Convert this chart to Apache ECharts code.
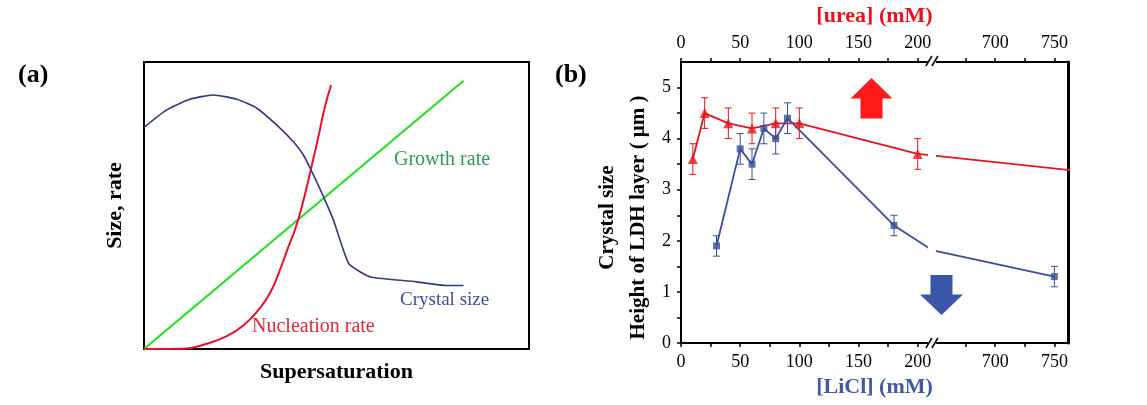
<!DOCTYPE html>
<html><head><meta charset="utf-8">
<script src="https://cdn.jsdelivr.net/npm/echarts@6/dist/echarts.min.js"></script>
<style>html,body{margin:0;padding:0;background:#fff}#c{width:1147px;height:405px}</style>
</head><body><div id="c"></div>
<script>
// ---------- Panel (a): schematic curves (x: supersaturation 0-100, y: size/rate 0-100)
const growthRate = [[0,0],[83,93.5]];
const nucleationRate = [[0,0],[10,0.1],[16.3,1.8],[21.5,4.5],[25.8,8.2],[29.7,13.6],[32.7,19.4],[35.3,27.5],[37.5,35.6],[39.2,41.5],[41,49.6],[43.1,61.2],[45.3,74],[47,84.4],[48.6,92]];
const crystalSizeCurve = [[0,77.2],[5.9,83.3],[11.9,87],[18,88.5],[24.1,87],[29.3,83.9],[34.5,78],[38.8,72.2],[41.4,67.6],[43.6,61.8],[46.2,54.3],[49.2,44.9],[53.1,29.9],[56.1,26.9],[59.1,25],[70.8,23.4],[78.6,22.1],[83,22.1]];

// ---------- Panel (b): measured data
const xTickLabels = [0,50,100,150,200,700,750];
const xMinorTicks = [25,75,125,175,675,725];
const yTickLabels = [0,1,2,3,4,5];
const yMinorTicks = [0.5,1.5,2.5,3.5,4.5];

const ureaConc = [10,20,40,60,80,100,200];
const ureaSize = [3.6,4.5,4.3,4.2,4.3,4.3,3.7];
const ureaErr  = [0.3,0.3,0.3,0.3,0.3,0.3,0.3];
const ureaLineTail = [[765,3.38]];

const liclConc = [30,50,60,70,80,90,180,750];
const liclSize = [1.9,3.8,3.5,4.2,4.0,4.4,2.3,1.3];
const liclErr  = [0.2,0.3,0.3,0.3,0.3,0.3,0.2,0.2];
const liclLineBend = [[212,1.82]];

const BREAK_LO = 212, BREAK_HI = 646.5;   // axis break in mM
function toAxis(x){ return x <= BREAK_LO ? x : x - (BREAK_HI - BREAK_LO); }
function fromAxis(d){ return d <= BREAK_LO + 0.01 ? d : d + (BREAK_HI - BREAK_LO); }

const RED = '#e6141e', BLUE = '#3a4f9c';
const SERIF = '"Liberation Serif", "Times New Roman", serif';

function pts(xs, ys){ return xs.map((x,i)=>[toAxis(x), ys[i]]); }
function linePts(xs, ys, extra){
  return xs.map((x,i)=>[x, ys[i]]).concat(extra).sort((a,b)=>a[0]-b[0]).map(p=>[toAxis(p[0]), p[1]]);
}
function errData(xs, ys, es){ return xs.map((x,i)=>[toAxis(x), ys[i]-es[i], ys[i]+es[i]]); }
function errRender(color){
  return function(params, api){
    const x = api.value(0);
    const p1 = api.coord([x, api.value(1)]), p2 = api.coord([x, api.value(2)]);
    const w = 3.5, st = {stroke: color, lineWidth: 1};
    return {type:'group', children:[
      {type:'line', shape:{x1:p1[0], y1:p1[1], x2:p2[0], y2:p2[1]}, style:st},
      {type:'line', shape:{x1:p1[0]-w, y1:p1[1], x2:p1[0]+w, y2:p1[1]}, style:st},
      {type:'line', shape:{x1:p2[0]-w, y1:p2[1], x2:p2[0]+w, y2:p2[1]}, style:st}
    ]};
  };
}

const tickFont = {fontFamily: SERIF, fontSize: 18, color: '#000'};
function bAxisX(pos, name, nameColor, gap){
  return {
    type:'value', gridIndex:1, position:pos, min:0, max:327,
    name:name, nameLocation:'middle', nameGap:gap,
    nameTextStyle:{fontFamily:SERIF, fontSize:22, fontWeight:'bold', color:nameColor},
    axisLine:{show:true, onZero:false, lineStyle:{color:'#000', width:2}},
    axisTick:{show:true, inside:false, length:4, lineStyle:{color:'#000', width:1.5},
      customValues: xTickLabels.concat(xMinorTicks).map(toAxis)},
    axisLabel:Object.assign({show:true, margin:10, customValues: xTickLabels.map(toAxis),
      formatter: v => String(Math.round(fromAxis(v)))}, tickFont),
    splitLine:{show:false}
  };
}

const chart = echarts.init(document.getElementById('c'), null, {renderer:'canvas'});
const option = {
  animation:false,
  backgroundColor:'#fff',
  grid:[
    {left:144, top:62, width:385, height:287, show:true, borderColor:'#000', borderWidth:2, backgroundColor:'transparent'},
    {left:681, top:61, width:387, height:282}
  ],
  xAxis:[
    {type:'value', gridIndex:0, min:0, max:100, name:'Supersaturation', nameLocation:'middle', nameGap:12,
     nameTextStyle:{fontFamily:SERIF, fontSize:22, fontWeight:'bold', color:'#000'},
     axisLine:{show:false}, axisTick:{show:false}, axisLabel:{show:false}, splitLine:{show:false}},
    bAxisX('bottom', '[LiCl] (mM)', '#4258a6', 31),
    bAxisX('top', '[urea] (mM)', '#e5141e', 35)
  ],
  yAxis:[
    {type:'value', gridIndex:0, min:0, max:100, name:'Size, rate', nameLocation:'middle', nameGap:18, nameRotate:90,
     nameTextStyle:{fontFamily:SERIF, fontSize:22, fontWeight:'bold', color:'#000'},
     axisLine:{show:false}, axisTick:{show:false}, axisLabel:{show:false}, splitLine:{show:false}},
    {type:'value', gridIndex:1, position:'left', min:0, max:5.5,
     name:'Crystal size\nHeight of LDH layer ( μm )', nameLocation:'middle', nameGap:27, nameRotate:90,
     nameTextStyle:{fontFamily:SERIF, fontSize:21, fontWeight:'bold', color:'#000', lineHeight:31, padding:[0,30,0,0]},
     axisLine:{show:true, onZero:false, lineStyle:{color:'#000', width:2}},
     axisTick:{show:true, length:4, lineStyle:{color:'#000', width:1.5}, customValues: yTickLabels.concat(yMinorTicks)},
     axisLabel:Object.assign({show:true, margin:10, customValues: yTickLabels}, tickFont),
     splitLine:{show:false}},
    {type:'value', gridIndex:1, position:'right', min:0, max:5.5,
     axisLine:{show:true, onZero:false, lineStyle:{color:'#000', width:3}},
     axisTick:{show:false}, axisLabel:{show:false}, splitLine:{show:false}}
  ],
  series:[
    {type:'line', xAxisIndex:0, yAxisIndex:0, data:growthRate, symbol:'none', lineStyle:{color:'#1ee01e', width:2}},
    {type:'line', xAxisIndex:0, yAxisIndex:0, data:nucleationRate, symbol:'none', smooth:0.5, lineStyle:{color:'#e8102a', width:2}},
    {type:'line', xAxisIndex:0, yAxisIndex:0, data:crystalSizeCurve, symbol:'none', smooth:0.2, lineStyle:{color:'#2e3b7e', width:1.6}},

    {type:'custom', xAxisIndex:1, yAxisIndex:1, data:errData(ureaConc, ureaSize, ureaErr), renderItem:errRender(RED), encode:{x:0, y:[1,2]}, z:3},
    {type:'custom', xAxisIndex:1, yAxisIndex:1, data:errData(liclConc, liclSize, liclErr), renderItem:errRender(BLUE), encode:{x:0, y:[1,2]}, z:3},
    {type:'line', xAxisIndex:1, yAxisIndex:1, data:linePts(ureaConc, ureaSize, ureaLineTail), symbol:'none', lineStyle:{color:RED, width:1.8}, z:2},
    {type:'line', xAxisIndex:1, yAxisIndex:1, data:linePts(liclConc, liclSize, liclLineBend), symbol:'none', lineStyle:{color:BLUE, width:1.8}, z:2},
    {type:'scatter', xAxisIndex:1, yAxisIndex:1, data:pts(ureaConc, ureaSize), symbol:'triangle', symbolSize:10, itemStyle:{color:RED}, z:4},
    {type:'scatter', xAxisIndex:1, yAxisIndex:1, data:pts(liclConc, liclSize), symbol:'rect', symbolSize:7, itemStyle:{color:BLUE}, z:4}
  ]
};
chart.setOption(option);

// decorations: break band + "//" marks, arrows, panel labels, curve labels
const bx = chart.convertToPixel({xAxisIndex:1}, toAxis(BREAK_LO));
const yTop = 61, yBot = 343;
function slash(x0, y){ return {type:'line', z:101, shape:{x1:x0, y1:y+5, x2:x0+6, y2:y-5}, style:{stroke:'#000', lineWidth:1.5}}; }
const graphics = [
  {type:'rect', z:100, shape:{x:bx-4, y:yTop-3, width:8, height:yBot-yTop+6}, style:{fill:'#fff'}},
  slash(bx-6, yTop), slash(bx, yTop), slash(bx-6, yBot), slash(bx, yBot),
  {type:'polygon', z:102, shape:{points:[[871.5,78],[892.5,98.5],[882.5,98.5],[882.5,118.5],[860.5,118.5],[860.5,98.5],[850.5,98.5]]}, style:{fill:'#ff1a1a'}},
  {type:'polygon', z:102, shape:{points:[[941.5,315],[963,294.5],[952.5,294.5],[952.5,275],[930.5,275],[930.5,294.5],[920,294.5]]}, style:{fill:'#3a56a8'}},
  {type:'text', z:102, style:{text:'(a)', x:18, y:75, font:'bold 26px ' + SERIF, fill:'#000', align:'left', verticalAlign:'middle'}},
  {type:'text', z:102, style:{text:'(b)', x:555, y:75, font:'bold 26px ' + SERIF, fill:'#000', align:'left', verticalAlign:'middle'}},
  {type:'text', z:102, style:{text:'Growth rate', x:394, y:160, font:'20px ' + SERIF, fill:'#2e9b57', align:'left', verticalAlign:'middle'}},
  {type:'text', z:102, style:{text:'Crystal size', x:400, y:300, font:'19px ' + SERIF, fill:'#3b4f9a', align:'left', verticalAlign:'middle'}},
  {type:'text', z:102, style:{text:'Nucleation rate', x:252, y:327, font:'20px ' + SERIF, fill:'#e0283c', align:'left', verticalAlign:'middle'}}
];
chart.setOption({graphic: graphics});
</script>
</body></html>
